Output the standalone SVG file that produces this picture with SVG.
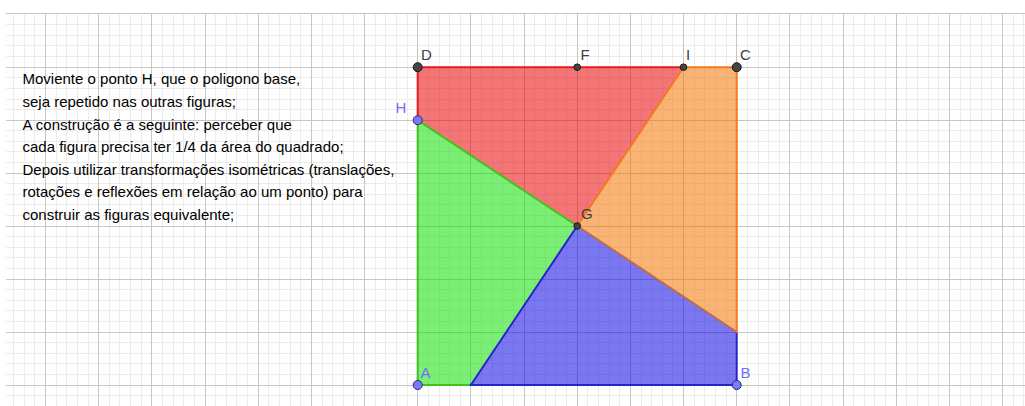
<svg xmlns="http://www.w3.org/2000/svg" width="1025" height="406" viewBox="0 0 1025 406">
<style>
.minor{stroke:#ececec;stroke-width:1;fill:none}
.major{stroke:#c6c6c6;stroke-width:1;fill:none}
.txt{font-family:"Liberation Sans",Arial,sans-serif;font-size:15px;fill:#000}
.lbl{font-family:"Liberation Sans",Arial,sans-serif;font-size:15px;fill:#404040}
.lblb{font-family:"Liberation Sans",Arial,sans-serif;font-size:15px;fill:#6f6ff5}
.dpt{fill:#454545;stroke:#1a1a1a;stroke-width:1}
.bpt{fill:#7a7aff;stroke:#2a2a6a;stroke-width:1}
.edge{fill:none;stroke-width:2;stroke-linecap:round}
</style>
<rect width="1025" height="406" fill="#ffffff"/>
<g id="grid" shape-rendering="crispEdges">
<path class="minor" d="M13.6 13.9V406M24.2 13.9V406M34.9 13.9V406M56.1 13.9V406M66.8 13.9V406M77.4 13.9V406M88 13.9V406M109.3 13.9V406M119.9 13.9V406M130.6 13.9V406M141.2 13.9V406M162.5 13.9V406M173.1 13.9V406M183.7 13.9V406M194.4 13.9V406M215.6 13.9V406M226.3 13.9V406M236.9 13.9V406M247.5 13.9V406M268.8 13.9V406M279.4 13.9V406M290.1 13.9V406M300.7 13.9V406M322 13.9V406M332.6 13.9V406M343.2 13.9V406M353.9 13.9V406M375.2 13.9V406M385.8 13.9V406M396.4 13.9V406M407.1 13.9V406M428.3 13.9V406M439 13.9V406M449.6 13.9V406M460.2 13.9V406M481.5 13.9V406M492.1 13.9V406M502.8 13.9V406M513.4 13.9V406M534.7 13.9V406M545.3 13.9V406M555.9 13.9V406M566.6 13.9V406M587.8 13.9V406M598.5 13.9V406M609.1 13.9V406M619.7 13.9V406M641 13.9V406M651.6 13.9V406M662.3 13.9V406M672.9 13.9V406M694.2 13.9V406M704.8 13.9V406M715.4 13.9V406M726.1 13.9V406M747.3 13.9V406M758 13.9V406M768.6 13.9V406M779.2 13.9V406M800.5 13.9V406M811.1 13.9V406M821.8 13.9V406M832.4 13.9V406M853.7 13.9V406M864.3 13.9V406M874.9 13.9V406M885.6 13.9V406M906.9 13.9V406M917.5 13.9V406M928.1 13.9V406M938.8 13.9V406M960 13.9V406M970.7 13.9V406M981.3 13.9V406M991.9 13.9V406M1013.2 13.9V406M1023.8 13.9V406
M6 24.6H1025M6 35.2H1025M6 45.9H1025M6 56.5H1025M6 77.8H1025M6 88.4H1025M6 99H1025M6 109.6H1025M6 130.8H1025M6 141.4H1025M6 151.9H1025M6 162.5H1025M6 183.7H1025M6 194.3H1025M6 204.9H1025M6 215.4H1025M6 236.6H1025M6 247.2H1025M6 257.8H1025M6 268.4H1025M6 289.6H1025M6 300.2H1025M6 310.8H1025M6 321.4H1025M6 342.6H1025M6 353.2H1025M6 363.8H1025M6 374.4H1025M6 395.6H1025"/>
<path class="major" d="M45.5 13.9V406M98.7 13.9V406M151.8 13.9V406M205 13.9V406M258.2 13.9V406M311.4 13.9V406M364.5 13.9V406M417.7 13.9V406M470.9 13.9V406M524 13.9V406M577.2 13.9V406M630.4 13.9V406M683.5 13.9V406M736.7 13.9V406M789.9 13.9V406M843 13.9V406M896.2 13.9V406M949.4 13.9V406M1002.6 13.9V406
M6 13.9H1025M6 67.2H1025M6 120.2H1025M6 173.1H1025M6 226H1025M6 279H1025M6 332H1025M6 385H1025"/>
</g>
<g id="text">
<text class="txt" x="22.5" y="84.3">Moviente o ponto H, que o poligono base,</text>
<text class="txt" x="22.5" y="106.9">seja repetido nas outras figuras;</text>
<text class="txt" x="22.5" y="129.5">A construção é a seguinte: perceber que</text>
<text class="txt" x="22.5" y="152.1">cada figura precisa ter 1/4 da área do quadrado;</text>
<text class="txt" x="22.5" y="174.7">Depois utilizar transformações isométricas (translações,</text>
<text class="txt" x="22.5" y="197.3">rotações e reflexões em relação ao um ponto) para</text>
<text class="txt" x="22.5" y="219.9">construir as figuras equivalente;</text>
</g>
<g id="poly-red">
<polygon points="417.7,67.2 683.5,67.2 577.2,226 417.7,120.2" fill="#eb0000" fill-opacity="0.54" stroke="none"/>
</g>
<g id="poly-green">
<polygon points="417.7,120.2 577.2,226 470.9,385 417.7,385" fill="#0de000" fill-opacity="0.54" stroke="none"/>
</g>
<g id="poly-blue">
<polygon points="470.9,385 577.2,226 736.7,332 736.7,385" fill="#0b04e4" fill-opacity="0.54" stroke="none"/>
</g>
<g id="poly-orange">
<polygon points="683.5,67.2 736.7,67.2 736.7,332 577.2,226" fill="#f27300" fill-opacity="0.54" stroke="none"/>
</g>
<g id="connectors">
<path class="edge" stroke="#e41c1c" d="M577.2 67.2H683.5M417.7 67.2H577.2M417.7 67.2V120.2"/>
<path class="edge" stroke="#3dc41c" d="M417.7 120.2V385H470.9M417.7 120.2L577.2 226"/>
<path class="edge" stroke="#2525cc" d="M577.2 226L470.9 385H736.7V332"/>
<path class="edge" stroke="#bd6b4c" d="M577.2 226L736.7 332"/>
<path class="edge" stroke="#f5781c" d="M683.5 67.2H736.7V332M683.5 67.2L577.2 226"/>
</g>
<g id="pt-D"><circle class="dpt" cx="417.7" cy="67.2" r="4.5"/><text class="lbl" x="421" y="59.8">D</text></g>
<g id="pt-F"><circle class="dpt" cx="577.2" cy="67.2" r="3.3"/><text class="lbl" x="580.5" y="59.8">F</text></g>
<g id="pt-I"><circle class="dpt" cx="683.5" cy="67.2" r="3.3"/><text class="lbl" x="686" y="59.8">I</text></g>
<g id="pt-C"><circle class="dpt" cx="736.7" cy="67.2" r="4.5"/><text class="lbl" x="740" y="59.8">C</text></g>
<g id="pt-G"><circle class="dpt" cx="577.2" cy="226" r="3.3"/><text class="lbl" x="581" y="218.5">G</text></g>
<g id="pt-H"><circle class="bpt" cx="417.7" cy="120.2" r="4.5"/><text class="lblb" x="395.5" y="112.5">H</text></g>
<g id="pt-A"><circle class="bpt" cx="417.7" cy="385" r="4.5"/><text class="lblb" x="420.5" y="378">A</text></g>
<g id="pt-B"><circle class="bpt" cx="736.7" cy="385" r="4.5"/><text class="lblb" x="740.5" y="377.5">B</text></g>
</svg>
